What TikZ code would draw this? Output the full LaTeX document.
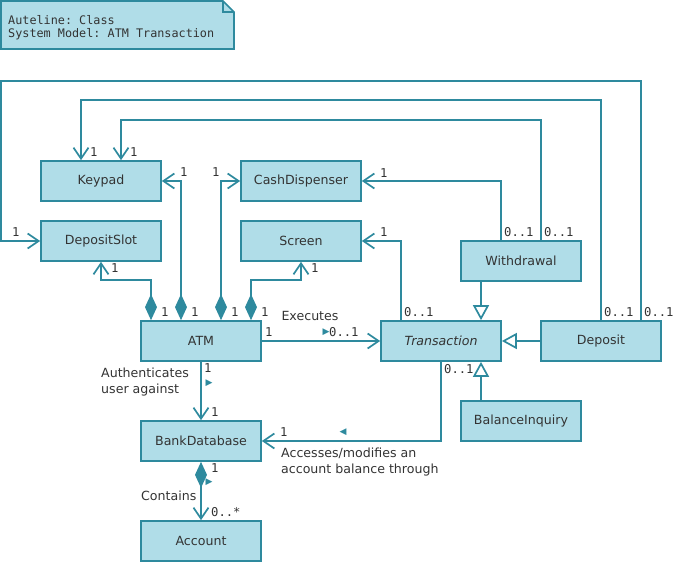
\documentclass[tikz,border=0pt]{standalone}
\usepackage{fontspec}
\setmainfont{DejaVu Sans}
\setmonofont{DejaVu Sans Mono}
\usetikzlibrary{arrows.meta}
\definecolor{strokec}{HTML}{2E8A9E}
\definecolor{fillc}{HTML}{B0DDE8}
\definecolor{txt}{HTML}{333333}
\tikzset{
  cls/.style={draw=strokec, fill=fillc, line width=1.7pt, minimum width=120pt, minimum height=40pt, inner sep=0pt, text=txt, font=\fontsize{12.6}{14}\selectfont},
  conn/.style={draw=strokec, line width=1.7pt},
  assoc/.style={conn, -{Straight Barb[length=11pt,width=15pt,line width=1.7pt]}},
  comp/.style={conn, {Diamond[length=26pt,width=12pt,fill=strokec]}-{Straight Barb[length=11pt,width=15pt,line width=1.7pt]}},
  gen/.style={conn, -{Triangle[open,length=15pt,width=16pt,fill=white,line width=1.7pt]}},
  ml/.style={font=\ttfamily\fontsize{12.2}{13}\selectfont, text=txt, anchor=west, inner sep=0pt},
  lbl/.style={font=\fontsize{12.6}{16}\selectfont, text=txt, inner sep=0pt, align=left},
  tri/.style={font=\fontsize{9}{10}\selectfont, text=strokec, inner sep=0pt},
}
\begin{document}
\begin{tikzpicture}[x=1pt,y=-1pt]
\useasboundingbox (0,0) rectangle (675,562);
% note
\draw[conn, fill=fillc] (1,1) -- (223,1) -- (234,12) -- (234,49) -- (1,49) -- cycle;
\draw[conn] (223,1) -- (223,12) -- (234,12);
\node[anchor=north west, inner sep=0pt, align=left, text=txt, font=\ttfamily\fontsize{11.8}{13.5}\selectfont] (note) at (8,15) {Auteline: Class\\System Model: ATM Transaction};
% classes
\node[cls] (Keypad) at (101,181) {Keypad};
\node[cls] (CashDispenser) at (301,181) {CashDispenser};
\node[cls] (DepositSlot) at (101,241) {DepositSlot};
\node[cls] (Screen) at (301,241) {Screen};
\node[cls] (Withdrawal) at (521,261) {Withdrawal};
\node[cls] (ATM) at (201,341) {ATM};
\node[cls] (Transaction) at (441,341) {\itshape Transaction};
\node[cls] (Deposit) at (601,341) {Deposit};
\node[cls] (BalanceInquiry) at (521,421) {BalanceInquiry};
\node[cls] (BankDatabase) at (201,441) {BankDatabase};
\node[cls] (Account) at (201,541) {Account};
\coordinate (cornerL) at (1,81);
% compositions from ATM
\draw[comp] ([xshift=-20pt]ATM.north) |- (Keypad.east);
\draw[comp] ([xshift=20pt]ATM.north) |- (CashDispenser.west);
\draw[comp] ([xshift=-50pt]ATM.north) -- ++(0,-40) -| (DepositSlot.south);
\draw[comp] ([xshift=50pt]ATM.north) -- ++(0,-40) -| (Screen.south);
% associations
\draw[assoc] ([xshift=-20pt]Withdrawal.north) |- (CashDispenser.east);
\draw[assoc] ([xshift=20pt]Withdrawal.north) -- ++(0,-120) -| ([xshift=20pt]Keypad.north);
\draw[assoc] (Deposit.north) -- ++(0,-220) -| ([xshift=-20pt]Keypad.north);
\draw[assoc] ([xshift=40pt]Deposit.north) |- (cornerL) |- (DepositSlot.west);
\draw[assoc] ([xshift=-40pt]Transaction.north) |- (Screen.east);
\draw[assoc] (Transaction.south) |- (BankDatabase.east);
\draw[assoc] (ATM) -- (Transaction);
\draw[assoc] (ATM) -- (BankDatabase);
\draw[comp] (BankDatabase) -- (Account);
% generalizations
\draw[gen] ([xshift=-40pt]Withdrawal.south) -- ([xshift=40pt]Transaction.north);
\draw[gen] (Deposit.west) -- (Transaction.east);
\draw[gen] ([xshift=-40pt]BalanceInquiry.north) -- ([xshift=40pt]Transaction.south);
% multiplicities
\node[ml] at (90,152) {1};
\node[ml] at (130,152) {1};
\node[ml] at (180,172) {1};
\node[ml] at (212,172) {1};
\node[ml] at (111,268) {1};
\node[ml] at (311,268) {1};
\node[ml] at (161,312) {1};
\node[ml] at (191,312) {1};
\node[ml] at (231,312) {1};
\node[ml] at (261,312) {1};
\node[ml] at (265,332) {1};
\node[ml] at (329,332) {0..1};
\node[ml] at (504,232) {0..1};
\node[ml] at (544,232) {0..1};
\node[ml] at (380,173) {1};
\node[ml] at (380,232) {1};
\node[ml] at (404,312) {0..1};
\node[ml] at (604,312) {0..1};
\node[ml] at (644,312) {0..1};
\node[ml] at (444,369) {0..1};
\node[ml] at (12,232) {1};
\node[ml] at (204,368) {1};
\node[ml] at (211,412) {1};
\node[ml] at (280,432) {1};
\node[ml] at (211,468) {1};
\node[ml] at (211,512) {0..*};
% association names
\node[lbl] at (310,316) {Executes};
\node[tri] at (326,332) {▶};
\node[lbl, anchor=north west] at (101,368) {Authenticates\\user against};
\node[tri] at (209,383) {▶};
\node[lbl, anchor=north west] at (281,448) {Accesses/modifies an\\account balance through};
\node[tri] at (343,432) {◀};
\node[lbl, anchor=west] at (141,496) {Contains};
\node[tri] at (209,482) {▶};
\end{tikzpicture}
\end{document}
